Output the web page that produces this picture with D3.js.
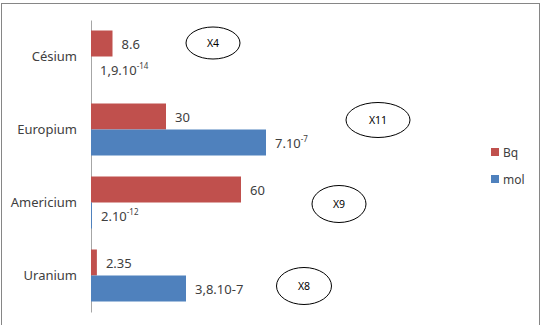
<!DOCTYPE html>
<html>
<head>
<meta charset="utf-8">
<script src="https://cdn.jsdelivr.net/npm/d3@7"></script>
<style>
  body { margin: 0; background: #fff; }
  svg text { font-family: "Noto Sans", "Open Sans", sans-serif; }
</style>
</head>
<body>
<svg id="chart"></svg>
<script>
var width = 542,
    height = 325;

// data
var categories = ["Césium", "Europium", "Americium", "Uranium"];
var seriesNames = ["Bq", "mol"];
var bqValues = [8.6, 30, 60, 2.35];
// mol bars drawn on the same axis (scaled), labels keep the real value
var molValues = [0, 70, 0.4, 38];
var bqLabels = [["8.6", ""], ["30", ""], ["60", ""], ["2.35", ""]];
var molLabels = [["1,9.10", "-14"], ["7.10", "-7"], ["2.10", "-12"], ["3,8.10-7", ""]];
// factor notes (the circled labels) per category
var factorLabels = ["X4", "X11", "X9", "X8"];
var factorPos = [[213, 43, 27, 16], [378, 120, 32, 17.5], [339, 204, 27, 18.5], [304, 286, 27.5, 18.5]];

var colors = { "Bq": "#C0504D", "mol": "#4F81BD" };

var svg = d3.select("#chart")
    .attr("width", width)
    .attr("height", height);

// outer frame
svg.append("rect")
    .attr("x", 1.5)
    .attr("y", 3.5)
    .attr("width", 538)
    .attr("height", 330)
    .attr("fill", "#fff")
    .attr("stroke", "#868686")
    .attr("stroke-width", 1);

var x = d3.scaleLinear()
    .domain([0, 60])
    .range([91, 241]);

var y = d3.scaleBand()
    .domain(categories)
    .range([20, 312])
    .paddingInner(0)
    .paddingOuter(0);

var y1 = d3.scaleBand()
    .domain(seriesNames)
    .range([10.5, y.bandwidth() - 10.5]);

// category axis (drawn under the bars)
var axis = d3.axisLeft(y)
    .tickSize(0)
    .tickPadding(14);

var gAxis = svg.append("g")
    .attr("transform", "translate(" + x(0) + ",0)")
    .call(axis);

gAxis.select(".domain")
    .attr("stroke", "#A6A6A6");

gAxis.selectAll("text")
    .attr("font-size", 13)
    .attr("fill", "#404040")
    .style("font-family", "'Noto Sans', sans-serif");

var rows = categories.map(function (c, i) {
    return {
        name: c,
        bars: [
            { key: "Bq", value: bqValues[i], label: bqLabels[i] },
            { key: "mol", value: molValues[i], label: molLabels[i] }
        ]
    };
});

var groups = svg.append("g")
    .selectAll("g")
    .data(rows)
    .enter()
    .append("g")
    .attr("transform", function (d) { return "translate(0," + y(d.name) + ")"; });

groups.selectAll("rect")
    .data(function (d) { return d.bars; })
    .enter()
    .append("rect")
    .attr("x", x(0))
    .attr("y", function (d) { return y1(d.key); })
    .attr("width", function (d) { return x(d.value) - x(0); })
    .attr("height", y1.bandwidth())
    .attr("fill", function (d) { return colors[d.key]; });

var labels = groups.selectAll("text.val")
    .data(function (d) { return d.bars; })
    .enter()
    .append("text")
    .attr("class", "val")
    .attr("x", function (d) { return x(d.value) + 9; })
    .attr("y", function (d) { return y1(d.key) + y1.bandwidth() / 2 + 5; })
    .attr("font-size", 13)
    .attr("fill", "#404040");

labels.append("tspan")
    .text(function (d) { return d.label[0]; });
labels.append("tspan")
    .attr("font-size", 8)
    .attr("dy", -6)
    .text(function (d) { return d.label[1]; });

// circled factors
var notes = svg.append("g")
    .selectAll("g")
    .data(factorLabels)
    .enter()
    .append("g")
    .attr("transform", function (d, i) { return "translate(" + factorPos[i][0] + "," + factorPos[i][1] + ")"; });

notes.append("ellipse")
    .attr("rx", function (d, i) { return factorPos[i][2]; })
    .attr("ry", function (d, i) { return factorPos[i][3]; })
    .attr("fill", "none")
    .attr("stroke", "#000")
    .attr("stroke-width", 1);

notes.append("text")
    .attr("text-anchor", "middle")
    .attr("dy", 4)
    .attr("font-size", 10.5)
    .attr("fill", "#000")
    .text(function (d) { return d; });

// legend
var legend = svg.append("g")
    .selectAll("g")
    .data(seriesNames)
    .enter()
    .append("g")
    .attr("transform", function (d, i) { return "translate(491," + (148 + i * 27) + ")"; });

legend.append("rect")
    .attr("width", 8)
    .attr("height", 8)
    .attr("fill", function (d) { return colors[d]; });

legend.append("text")
    .attr("x", 12)
    .attr("y", 9)
    .attr("font-size", 12)
    .attr("fill", "#404040")
    .text(function (d) { return d; });
</script>
</body>
</html>
